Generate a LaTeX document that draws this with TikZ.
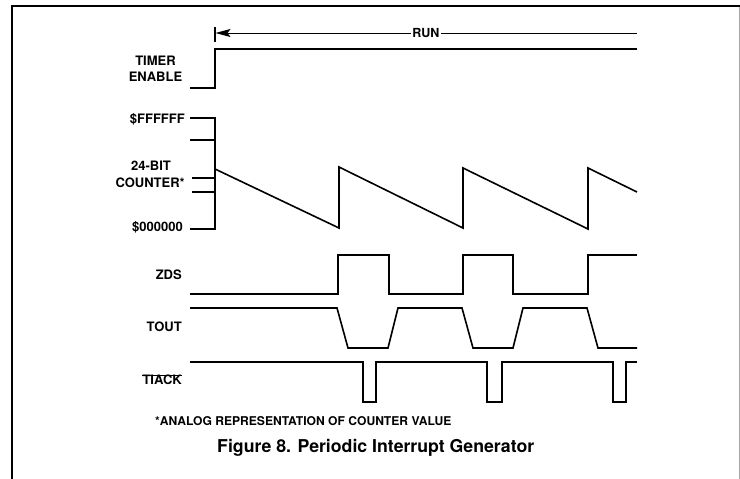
\documentclass[tikz,border=0pt]{standalone}
\usepackage{fontspec}
\setmainfont{TeX Gyre Heros}
\usetikzlibrary{arrows.meta}
\begin{document}
\begin{tikzpicture}[x=1pt,y=-1pt,
  wave/.style={line width=1.6pt, line join=miter},
  lbl/.style={font=\fontsize{13}{13}\selectfont\bfseries, inner sep=0pt},
  frame/.style={line width=2pt}]
\useasboundingbox (0,0) rectangle (740,479);
\fill[white] (0,0) rectangle (740,479);
% frame
\draw[frame] (11.5,479) -- (11.5,6) -- (740,6);
\draw[gray!70, line width=0.8pt] (739,7) -- (739,479);
% RUN
\draw[line width=1.1pt] (215,27) -- (215,42);
\node[font=\fontsize{12.5}{12.5}\selectfont\bfseries, inner sep=1.5pt, anchor=base] (run) at (426,37.5) {RUN};
\coordinate (runstart) at (215.5,33);
\coordinate (runend) at (637,33);
\draw[line width=1pt, -{Stealth[length=15pt,width=8pt,inset=3pt]}] (run.west |- runstart) -- (runstart);
\draw[line width=1pt] (run.east |- runend) -- (runend);
% TIMER ENABLE
\node[lbl, anchor=base] (timer) at (155.5,65) {TIMER};
\node[lbl, anchor=base] (enable) at (155.5,81) {ENABLE};
\draw[wave] (190,88) -- (215,88) -- (215,49) -- (637,49);
% counter
\node[lbl, anchor=base east] (ff) at (185,123.5) {\$FFFFFF};
\node[lbl, anchor=base] (bit) at (151,170) {24-BIT};
\node[lbl, anchor=base east] (cnt) at (185,187) {COUNTER*};
\node[lbl, anchor=base east] (zero) at (183,231) {\$000000};
\draw[wave] (190,118) -- (215,118) -- (215,229) -- (190,229);
\draw[wave] (190,140) -- (215,140);
\draw[wave] (192,178) -- (215,178);
\draw[wave] (192,192) -- (215,192);
\draw[wave] (215,169) -- (339,228) -- (339,167) -- (463,228) -- (463,168)
  -- (588,229) -- (588,168) -- (637,192);
% ZDS
\node[lbl, anchor=base east] (zds) at (182,279) {ZDS};
\draw[wave] (190,294) -- (338,294) -- (338,255) -- (389,255) -- (389,294)
  -- (463,294) -- (463,255) -- (513,255) -- (513,294) -- (588,294)
  -- (588,255) -- (637,255);
% TOUT
\node[lbl, anchor=base east] (tout) at (182,331.5) {TOUT};
\draw[wave] (190,308) -- (337,308) -- (348,348) -- (388,348) -- (398,308)
  -- (462,308) -- (473,348) -- (513,348) -- (523,308) -- (587,308)
  -- (598,348) -- (637,348);
% TIACK
\node[lbl, anchor=base east] (tiack) at (182,384) {TIACK};
\draw[line width=1pt] ([yshift=-1.8pt]tiack.north west) -- ([yshift=-1.8pt]tiack.north east);
\draw[wave] (190,362) -- (363,362) -- (363,402) -- (376,402) -- (376,362)
  -- (487,362) -- (487,402) -- (502,402) -- (502,362) -- (613,362)
  -- (613,402) -- (626,402) -- (626,362) -- (637,362);
% footnote and caption
\node[font=\fontsize{12.1}{12.1}\selectfont\bfseries, inner sep=0pt, anchor=base west] (note) at (155,425.7)
  {*ANALOG REPRESENTATION OF COUNTER VALUE};
\node[font=\fontsize{17.7}{17.7}\selectfont\bfseries, inner sep=0pt, anchor=base west] (cap) at (217,452)
  {Figure 8. Periodic Interrupt Generator};
\end{tikzpicture}
\end{document}
